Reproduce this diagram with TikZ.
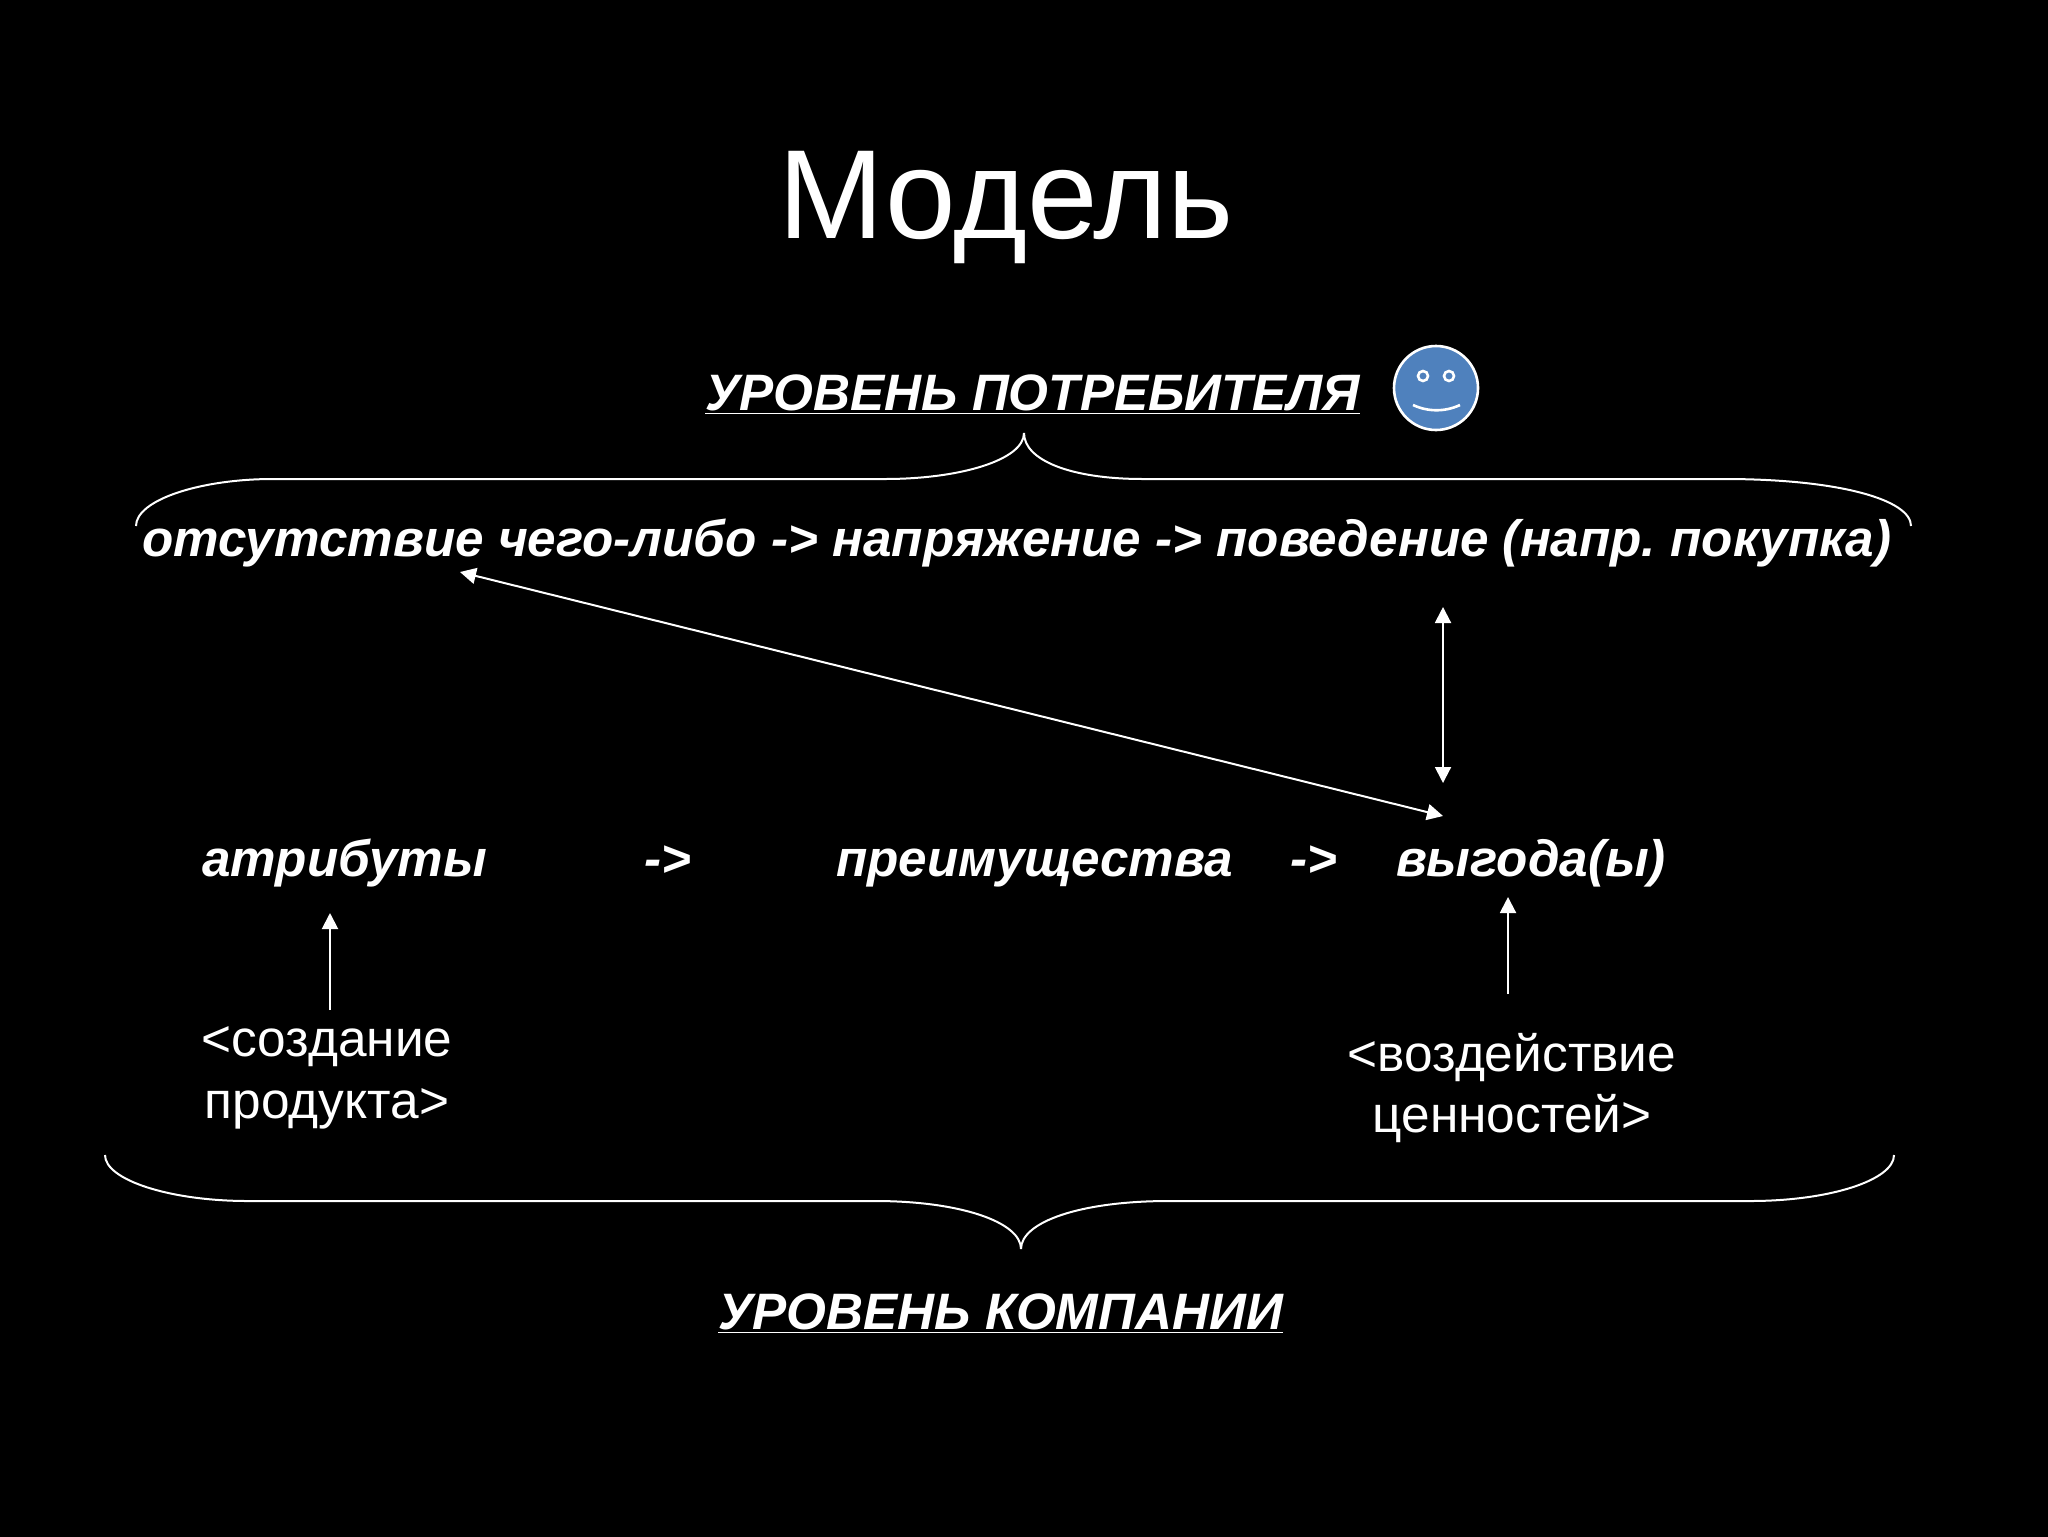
\documentclass[tikz,border=0pt]{standalone}
\usepackage{fontspec}
\setmainfont{Liberation Sans}
\usetikzlibrary{arrows.meta}
\newcommand{\fsz}[1]{\fontsize{#1pt}{#1pt}\selectfont}
\frenchspacing
\tikzset{
  lbl/.style={text=white,inner sep=0pt,outer sep=0pt,anchor=base west,font=\fsz{25.6}\bfseries\itshape},
  plain/.style={text=white,inner sep=0pt,outer sep=0pt,anchor=base,font=\fsz{25.7},align=center},
  conn/.style={draw=white,line width=1pt,-{Triangle[length=8pt,width=8pt]}},
  biconn/.style={draw=white,line width=1pt,{Triangle[length=8pt,width=8pt]}-{Triangle[length=8pt,width=8pt]}},
  bracepath/.style={draw=white,line width=1pt,line join=bevel},
  faceline/.style={draw=white,line width=1.3pt}
}
\definecolor{faceblue}{RGB}{79,129,189}
\begin{document}
\begin{tikzpicture}[x=0.5pt,y=-0.5pt]
\useasboundingbox (0,0) rectangle (2048,1536);
\fill[black] (-6,-6) rectangle (2054,1542);
\node[plain,font=\fsz{63.4}] (title) at (1006,238) {Модель};
\node[lbl] (consumer) at (705,410) {\underline{УРОВЕНЬ ПОТРЕБИТЕЛЯ}};
\node[lbl] (chain) at (142,556) {отсутствие чего-либо -> напряжение -> поведение (напр. покупка)};
\node[lbl] (attr) at (202,876) {атрибуты};
\node[lbl] (a1) at (644,876) {->};
\node[lbl] (adv) at (836,876) {преимущества};
\node[lbl] (a2) at (1290,876) {->};
\node[lbl] (gain) at (1396,876) {выгода(ы)};
\node[plain] (create1) at (327,1056) {<создание};
\node[plain] (create2) at (327,1118) {продукта>};
\node[plain] (impact1) at (1512,1071) {<воздействие};
\node[plain] (impact2) at (1512,1132) {ценностей>};
\node[lbl] (company) at (718,1329) {\underline{УРОВЕНЬ КОМПАНИИ}};
% smiley
\node[circle,draw=white,line width=1.3pt,fill=faceblue,minimum size=42pt,inner sep=0pt] (face) at (1436,388) {};
\draw[faceline] (1423,376) circle[radius=5] (1449,376) circle[radius=5];
\draw[faceline] (1413,405) .. controls (1428,412) and (1445,412) .. (1460,405);
% braces
\coordinate (tl) at (136,526); \coordinate (tt) at (1024,433); \coordinate (tr) at (1911,526);
\draw[bracepath] (tl) .. controls (136,500) and (200,479) .. (273,479) -- (885,479) .. controls (960,479) and (1024,460) .. (tt)
  .. controls (1024,460) and (1070,479) .. (1143,479) -- (1724,479) .. controls (1840,479) and (1911,500) .. (tr);
\coordinate (bl) at (105,1155); \coordinate (bt) at (1021,1249); \coordinate (br) at (1894,1155);
\draw[bracepath] (bl) .. controls (105,1180) and (170,1201) .. (248,1201) -- (875,1201) .. controls (960,1201) and (1021,1222) .. (bt)
  .. controls (1021,1222) and (1080,1201) .. (1169,1201) -- (1750,1201) .. controls (1830,1201) and (1894,1180) .. (br);
% arrows
\coordinate (d1) at (1443,816); \coordinate (d2) at (460,572);
\draw[biconn] (d1) -- (d2);
\coordinate (v1) at (1443,607); \coordinate (v2) at (1443,783);
\draw[biconn] (v1) -- (v2);
\coordinate (u1) at (330,1010); \coordinate (u2) at (330,913);
\draw[conn] (u1) -- (u2);
\coordinate (w1) at (1508,994); \coordinate (w2) at (1508,897);
\draw[conn] (w1) -- (w2);
\end{tikzpicture}
\end{document}
